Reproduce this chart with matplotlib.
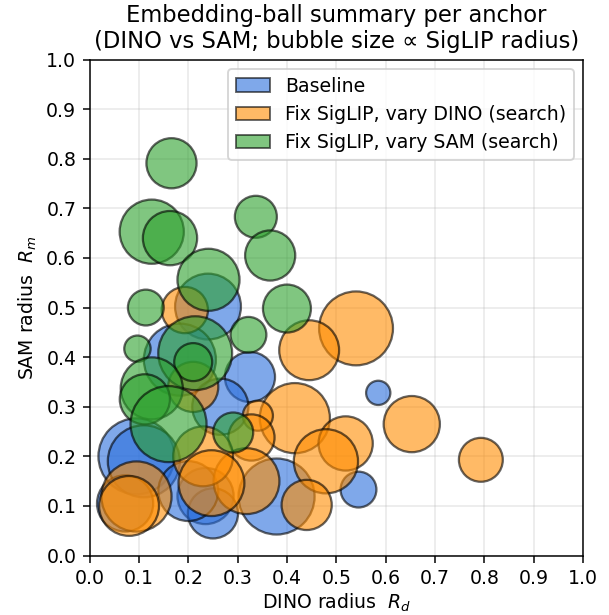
import numpy as np
import matplotlib
matplotlib.use("Agg")
import matplotlib.pyplot as plt
from matplotlib.patches import Patch

# per-anchor ball radii (DINO, SAM, SigLIP)
base_dino = [0.095, 0.110, 0.072, 0.235, 0.250, 0.379, 0.545, 0.585, 0.325, 0.240, 0.183, 0.265, 0.200]
base_sam = [0.200, 0.190, 0.105, 0.120, 0.085, 0.119, 0.133, 0.328, 0.360, 0.502, 0.395, 0.300, 0.130]
base_sig = [1.08, 0.97, 0.59, 0.59, 0.47, 1.08, 0.24, 0.11, 0.47, 0.81, 0.97, 0.59, 0.67]

dino_dino = [0.540, 0.445, 0.653, 0.793, 0.416, 0.519, 0.479, 0.440, 0.341, 0.328, 0.318,
             0.230, 0.247, 0.095, 0.193, 0.210, 0.080]
dino_sam = [0.458, 0.414, 0.265, 0.193, 0.277, 0.226, 0.190, 0.102, 0.282, 0.238, 0.150,
            0.200, 0.146, 0.119, 0.495, 0.340, 0.100]
dino_sig = [1.02, 0.67, 0.59, 0.36, 0.92, 0.55, 0.77, 0.47, 0.17, 0.40, 0.81,
            0.67, 0.81, 0.92, 0.40, 0.47, 0.67]

sam_dino = [0.166, 0.126, 0.163, 0.337, 0.366, 0.241, 0.400, 0.114, 0.322, 0.097, 0.214,
            0.210, 0.126, 0.112, 0.160, 0.291]
sam_sam = [0.791, 0.653, 0.640, 0.683, 0.605, 0.556, 0.498, 0.500, 0.445, 0.417, 0.408,
           0.390, 0.337, 0.315, 0.265, 0.248]
sam_sig = [0.47, 0.77, 0.55, 0.33, 0.47, 0.72, 0.43, 0.24, 0.24, 0.13, 1.02,
           0.27, 0.72, 0.47, 1.08, 0.30]

labels = ["Baseline", "Fix SigLIP, vary DINO (search)", "Fix SigLIP, vary SAM (search)"]
colors = ["#2a6edc", "darkorange", "tab:green"]
size_scale = 1500

fig = plt.figure(figsize=(609 / 136, 615 / 136), dpi=136)
ax = fig.add_axes([0.1471, 0.0967, 0.8102, 0.8064])

groups = [(base_dino, base_sam, base_sig), (dino_dino, dino_sam, dino_sig), (sam_dino, sam_sam, sam_sig)]
for (xs, ys, sig), c in zip(groups, colors):
    ax.scatter(xs, ys, s=size_scale * np.array(sig), c=c, alpha=0.6,
               edgecolors='k', linewidths=1.2)

ax.set_xlim(0, 1)
ax.set_ylim(0, 1)
ax.set_xticks(np.arange(0, 1.01, 0.1))
ax.set_yticks(np.arange(0, 1.01, 0.1))
ax.grid(True, alpha=0.3)
ax.set_axisbelow(True)

ax.set_xlabel(r"DINO radius  $R_d$", labelpad=2)
ax.set_ylabel(r"SAM radius  $R_m$")
ax.set_title("Embedding-ball summary per anchor\n(DINO vs SAM; bubble size \u221d SigLIP radius)")

handles = [Patch(facecolor=c, edgecolor='k', alpha=0.6, label=l) for c, l in zip(colors, labels)]
ax.legend(handles=handles, loc='upper right', handlelength=1.8)

fig.savefig("out.png", dpi=136)
